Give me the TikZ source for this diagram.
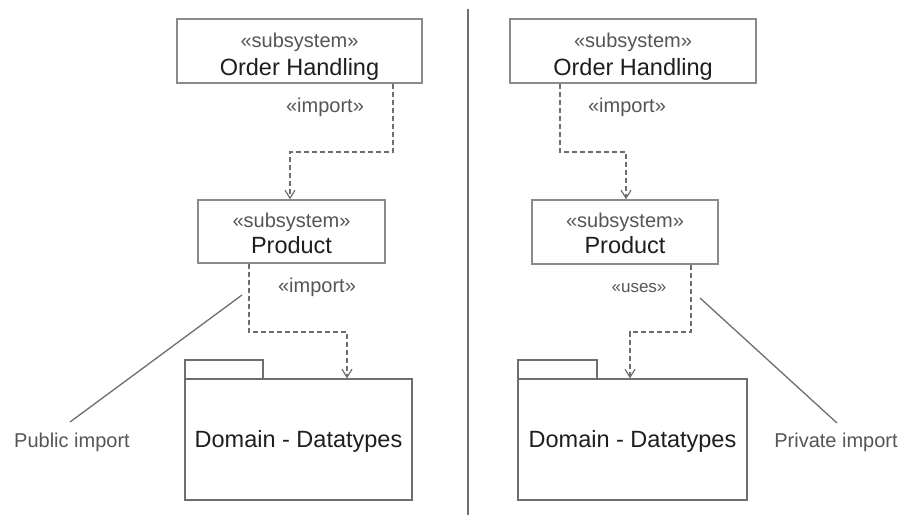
\documentclass[tikz,border=0pt]{standalone}
\usepackage{fontspec}
\setmainfont{Liberation Sans}
\usetikzlibrary{arrows.meta}
\definecolor{boxc}{HTML}{8A8A8A}
\definecolor{linec}{HTML}{6E6E6E}
\definecolor{txtc}{HTML}{1E1E1E}
\definecolor{stc}{HTML}{555555}
\tikzset{
  sysbox/.style={draw=boxc, line width=1.5pt, fill=white, rectangle, inner sep=0pt},
  pkgbody/.style={draw=linec, line width=1.3pt, rectangle, inner sep=0pt},
  stereo/.style={anchor=base, inner sep=0pt, text=stc, font=\fontsize{20}{23}\selectfont},
  nametxt/.style={anchor=base, inner sep=0pt, text=txtc, font=\fontsize{23.5}{26}\selectfont},
  deplbl/.style={anchor=base, inner sep=0pt, text=stc, font=\fontsize{20}{23}\selectfont},
  usellbl/.style={anchor=base, inner sep=0pt, text=stc, font=\fontsize{17}{20}\selectfont},
  notetxt/.style={anchor=base, inner sep=0pt, text=stc, font=\fontsize{20}{23}\selectfont},
  dep/.style={draw=linec, line width=1.3pt, dash pattern=on 5pt off 3pt,
     -{Straight Barb[length=8pt,width=10pt,line width=1.2pt]}},
  noteline/.style={draw=linec, line width=1.3pt},
}
\begin{document}
\begin{tikzpicture}[x=1pt,y=-1pt]
\useasboundingbox (0,0) rectangle (899,515);
\fill[white] (0,0) rectangle (899,515);

% divider
\coordinate (divtop) at (468,9);
\coordinate (divbot) at (468,515);
\draw[linec, line width=1.8pt] (divtop) -- (divbot);

% ===== Left side =====
\node[sysbox, minimum width=245pt, minimum height=64pt] (ohL) at (299.5,51) {};
\node[stereo] (ohLs) at (299.5,47) {«subsystem»};
\node[nametxt] (ohLn) at (299.5,75) {Order Handling};

\node[sysbox, minimum width=187pt, minimum height=63pt] (prL) at (291.5,231.5) {};
\node[stereo] (prLs) at (291.5,227) {«subsystem»};
\node[nametxt] (prLn) at (291.5,253) {Product};

\node[pkgbody, minimum width=78pt, minimum height=19pt] (tabL) at (224,369.5) {};
\node[pkgbody, minimum width=227pt, minimum height=121pt] (pkL) at (298.5,439.5) {};
\node[nametxt] (pkLn) at (298.5,447) {Domain - Datatypes};

\draw[dep] (ohL.south -| 393,0) -- (393,152) -| (prL.north -| 290,0);
\node[deplbl] (impL1) at (325,112) {«import»};

\draw[dep] (prL.south -| 249,0) -- (249,332) -| (pkL.north -| 347,0);
\node[deplbl] (impL2) at (317,292) {«import»};

\coordinate (pubA) at (242,295);
\coordinate (pubB) at (70,422);
\draw[noteline] (pubA) -- (pubB);
\node[notetxt] (pubT) at (72,447) {Public import};

% ===== Right side =====
\node[sysbox, minimum width=246pt, minimum height=64pt] (ohR) at (633,51) {};
\node[stereo] (ohRs) at (633,47) {«subsystem»};
\node[nametxt] (ohRn) at (633,75) {Order Handling};

\node[sysbox, minimum width=186pt, minimum height=64pt] (prR) at (625,232) {};
\node[stereo] (prRs) at (625,227) {«subsystem»};
\node[nametxt] (prRn) at (625,253) {Product};

\node[pkgbody, minimum width=79pt, minimum height=19pt] (tabR) at (557.5,369.5) {};
\node[pkgbody, minimum width=229pt, minimum height=121pt] (pkR) at (632.5,439.5) {};
\node[nametxt] (pkRn) at (632.5,447) {Domain - Datatypes};

\draw[dep] (ohR.south -| 560,0) -- (560,152) -| (prR.north -| 626,0);
\node[deplbl] (impR1) at (627,112) {«import»};

\draw[dep] (prR.south -| 691,0) -- (691,332) -| (pkR.north -| 630,0);
\node[usellbl] (usesR) at (639,292) {«uses»};

\coordinate (priA) at (700,298);
\coordinate (priB) at (837,423);
\draw[noteline] (priA) -- (priB);
\node[notetxt] (priT) at (836,447) {Private import};
\end{tikzpicture}
\end{document}
